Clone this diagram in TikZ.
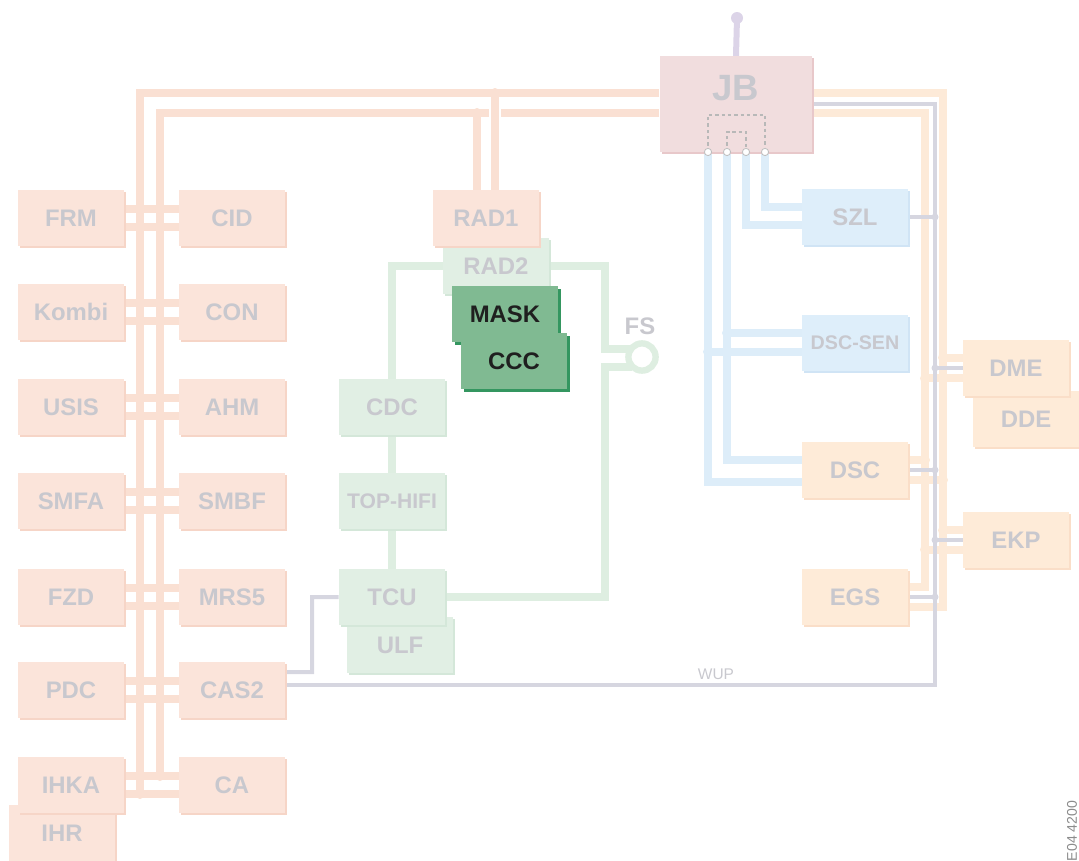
\documentclass[tikz,border=0pt]{standalone}
\usepackage{fontspec}
\setsansfont{Liberation Sans}
\usetikzlibrary{shadows, backgrounds}

\tikzset{
  unit/.style={rectangle, minimum width=2.65cm, minimum height=1.4cm, inner sep=0pt,
    font=\sffamily\bfseries\fontsize{17}{20}\selectfont, text=lblgray},
  salbox/.style={unit, fill=salfill,
    drop shadow={shadow xshift=0.5mm, shadow yshift=-0.5mm, fill=saledge, opacity=1}},
  pchbox/.style={unit, fill=pchfill,
    drop shadow={shadow xshift=0.5mm, shadow yshift=-0.5mm, fill=pchedge, opacity=1}},
  bluebox/.style={unit, fill=bluefill,
    drop shadow={shadow xshift=0.5mm, shadow yshift=-0.5mm, fill=blueedge, opacity=1}},
  grnbox/.style={unit, fill=grnfill,
    drop shadow={shadow xshift=0.5mm, shadow yshift=-0.5mm, fill=grnedge, opacity=1}},
  maskbox/.style={unit, fill=dkgrnfill, text=black!88,
    drop shadow={shadow xshift=0.7mm, shadow yshift=-0.7mm, fill=dkgrnedge, opacity=1}},
  jbbox/.style={rectangle, minimum width=3.82cm, minimum height=2.38cm, fill=jbfill,
    drop shadow={shadow xshift=0.5mm, shadow yshift=-0.5mm, fill=jbedge, opacity=1}},
  small/.style={font=\sffamily\bfseries\fontsize{14}{16}\selectfont},
  midsize/.style={font=\sffamily\bfseries\fontsize{15}{17}\selectfont},
  jblbl/.style={font=\sffamily\bfseries\fontsize{26}{30}\selectfont, text=lblgray},
  fslbl/.style={font=\sffamily\bfseries\fontsize{17}{20}\selectfont, text=lblgray},
  wuplbl/.style={font=\sffamily\fontsize{11}{13}\selectfont, text=lblgray},
  codelbl/.style={font=\sffamily\fontsize{10}{12}\selectfont, text=black!45},
  salbus/.style={draw=salline, line width=2mm},
  pchbus/.style={draw=pchline, line width=2mm},
  bluebus/.style={draw=blueline, line width=2mm},
  grnbus/.style={draw=grnline, line width=2mm},
  graywire/.style={draw=wiregray, line width=1mm},
  antwire/.style={draw=antline, line width=1.5mm},
  jbdash/.style={draw=black!28, line width=0.8pt, dash pattern=on 2.5pt off 2pt},
  fsring/.style={circle, draw=grnline, line width=1.6mm, fill=white, minimum size=0.68cm, inner sep=0pt}
}

\begin{document}
\begin{tikzpicture}[x=0.025cm, y=-0.025cm]
% palette
\definecolor{salfill}{RGB}{251,228,218}
\definecolor{saledge}{RGB}{246,213,199}
\definecolor{salline}{RGB}{250,224,211}
\definecolor{pchfill}{RGB}{254,235,216}
\definecolor{pchedge}{RGB}{250,222,200}
\definecolor{pchline}{RGB}{253,234,216}
\definecolor{jbfill}{RGB}{241,221,222}
\definecolor{jbedge}{RGB}{232,200,202}
\definecolor{bluefill}{RGB}{222,238,250}
\definecolor{blueedge}{RGB}{208,228,245}
\definecolor{blueline}{RGB}{221,237,249}
\definecolor{grnfill}{RGB}{225,239,228}
\definecolor{grnedge}{RGB}{212,231,217}
\definecolor{grnline}{RGB}{222,238,225}
\definecolor{dkgrnfill}{RGB}{128,186,146}
\definecolor{dkgrnedge}{RGB}{52,150,96}
\definecolor{wiregray}{RGB}{214,214,224}
\definecolor{antline}{RGB}{220,212,232}
\definecolor{lblgray}{RGB}{200,200,206}

\useasboundingbox (0,0) rectangle (1079,861);

% left column of units
\node[salbox] (IHR) at (62,833) {IHR};
\foreach \l/\r/\y in {FRM/CID/218, Kombi/CON/312, USIS/AHM/407, SMFA/SMBF/501,
    FZD/MRS5/597, PDC/CAS2/690, IHKA/CA/785} {
  \node[salbox] (\l) at (71,\y) {\l};
  \node[salbox] (\r) at (232,\y) {\r};
}

% centre units
\node[grnbox] (RAD2) at (496,266) {RAD2};
\node[salbox] (RAD1) at (486,218) {RAD1};
\node[maskbox] (MASK) at (505,314) {MASK};
\node[maskbox] (CCC) at (514,361) {CCC};
\node[grnbox] (CDC) at (392,407) {CDC};
\node[grnbox, midsize] (TOPHIFI) at (392,501) {TOP-HIFI};
\node[grnbox] (ULF) at (400,645) {ULF};
\node[grnbox] (TCU) at (392,597) {TCU};
\node[fsring] (fs) at (642,357) {};
\node[fslbl] (fslabel) at (640,326) {FS};

% right units
\node[jbbox] (JB) at (736,104) {};
\node[jblbl] (jbtext) at (736,88) {JB};
\node[bluebox] (SZL) at (855,217) {SZL};
\node[bluebox, small] (DSCSEN) at (855,343) {DSC-SEN};
\node[pchbox] (DSC) at (855,470) {DSC};
\node[pchbox] (EGS) at (855,597) {EGS};
\node[pchbox] (DDE) at (1026,419) {DDE};
\node[pchbox] (DME) at (1016,368) {DME};
\node[pchbox] (EKP) at (1016,540) {EKP};

% JB ports and inner bridges
\foreach \i/\px in {1/708, 2/727, 3/746, 4/765}
  \coordinate (p\i) at (\px,152);
\draw[jbdash] (p1) -- ++(0,-37) -| (p4);
\draw[jbdash] (p2) -- ++(0,-20) -| (p3);
\foreach \i in {1,...,4}
  \draw[black!25, fill=white, line width=0.6pt] (p\i) circle[radius=3.6];

\node[wuplbl] (wup) at (716,674) {WUP};
\node[codelbl, rotate=90] (code) at (1072,831) {E04 4200};

\begin{scope}[on background layer]
% left bus
\coordinate (sa) at (140,93);
\coordinate (sb) at (160,113);
\coordinate (sa end) at (140,794);
\coordinate (sb end) at (160,776);
\draw[salbus] (JB.west |- sa) -- (sa) -- (sa end);
\draw[salbus] (JB.west |- sb) -- (sb) -- (sb end);
\foreach \l/\r/\y in {FRM/CID/218, Kombi/CON/312, USIS/AHM/407, SMFA/SMBF/501,
    FZD/MRS5/597, PDC/CAS2/690, IHKA/CA/785} {
  \draw[salbus] ([yshift=2.25mm]\l.east) -- ([yshift=2.25mm]\r.west);
  \draw[salbus] ([yshift=-2.25mm]\l.east) -- ([yshift=-2.25mm]\r.west);
  \fill[salline] (160,{\y-9}) circle[radius=5];
  \fill[salline] (140,{\y+9}) circle[radius=5];
}
% RAD1 taps
\coordinate (ra) at (495,93);
\coordinate (rb) at (477,113);
\draw[salbus] (rb) -- (RAD1.north -| rb);
\draw[white, line width=3.2mm] (495,104) -- (495,122);
\draw[salbus] (ra) -- (RAD1.north -| ra);
\fill[salline] (ra) circle[radius=5];
\fill[salline] (rb) circle[radius=5];

% antenna
\coordinate (ant) at (737,18);
\draw[antwire] (JB.north) -- (ant);
\fill[antline] (ant) circle[radius=6];

% right bus
\coordinate (po) at (943,93);
\coordinate (pi) at (925,113);
\coordinate (gx) at (935,685);
\draw[pchbus] (JB.east |- po) -| ([yshift=-2.6mm]EGS.east -| po) -- ([yshift=-2.6mm]EGS.east);
\draw[pchbus] (JB.east |- pi) -| ([yshift=2.4mm]EGS.east -| pi) -- ([yshift=2.4mm]EGS.east);
\foreach \u/\a/\b in {DSC/2.5/-2.5} {
  \draw[pchbus] ([yshift=\a mm]\u.east) -- ([yshift=\a mm]\u.east -| pi);
  \fill[pchline] ([yshift=\a mm]\u.east -| pi) circle[radius=5];
  \draw[pchbus] ([yshift=\b mm]\u.east) -- ([yshift=\b mm]\u.east -| po);
  \fill[pchline] ([yshift=\b mm]\u.east -| po) circle[radius=5];
}
\foreach \u/\a/\b in {DME/2.6/-2.6, EKP/2.4/-2.4} {
  \draw[pchbus] ([yshift=\a mm]\u.west) -- ([yshift=\a mm]\u.west -| po);
  \fill[pchline] ([yshift=\a mm]\u.west -| po) circle[radius=5];
  \draw[pchbus] ([yshift=\b mm]\u.west) -- ([yshift=\b mm]\u.west -| pi);
  \fill[pchline] ([yshift=\b mm]\u.west -| pi) circle[radius=5];
}

% wake-up line
\draw[graywire] (JB.east) -| (gx) -- (CAS2.east |- gx);
\foreach \u in {SZL, DSC, EGS} {
  \draw[graywire] (\u.east) -- (\u.east -| gx);
  \fill[wiregray] (\u.east -| gx) circle[radius=3.5];
}
\foreach \u in {DME, EKP} {
  \draw[graywire] (\u.west) -- (\u.west -| gx);
  \fill[wiregray] (\u.west -| gx) circle[radius=3.5];
}
\coordinate (tk) at (312,672);
\draw[graywire] ([yshift=4.5mm]CAS2.east) -- (tk) |- (TCU.west);

% JB branches
\draw[bluebus] (p1) |- ([yshift=-3mm]DSC.west);
\draw[bluebus] (p2) |- ([yshift=2.5mm]DSC.west);
\draw[bluebus] (p3) |- ([yshift=-2mm]SZL.west);
\draw[bluebus] (p4) |- ([yshift=2.5mm]SZL.west);
\draw[bluebus] ([yshift=2.5mm]DSCSEN.west) -- ([yshift=2.5mm]DSCSEN.west -| p2);
\fill[blueline] ([yshift=2.5mm]DSCSEN.west -| p2) circle[radius=5];
\draw[bluebus] ([yshift=-2.2mm]DSCSEN.west) -- ([yshift=-2.2mm]DSCSEN.west -| p1);
\fill[blueline] ([yshift=-2.2mm]DSCSEN.west -| p1) circle[radius=5];

% green ring
\coordinate (fsa) at (605,349);
\coordinate (fsb) at (605,367);
\coordinate (fsin) at (632,349);
\coordinate (fsout) at (632,367);
\draw[grnbus] (RAD2.west) -| (CDC.north);
\draw[grnbus] (CDC.south) -- (TOPHIFI.north);
\draw[grnbus] (TOPHIFI.south) -- (TCU.north);
\draw[grnbus] (RAD2.east) -| (fsa) -- (fsin);
\draw[grnbus] (fsout) -- (fsb) |- (TCU.east);
\end{scope}
\end{tikzpicture}
\end{document}
